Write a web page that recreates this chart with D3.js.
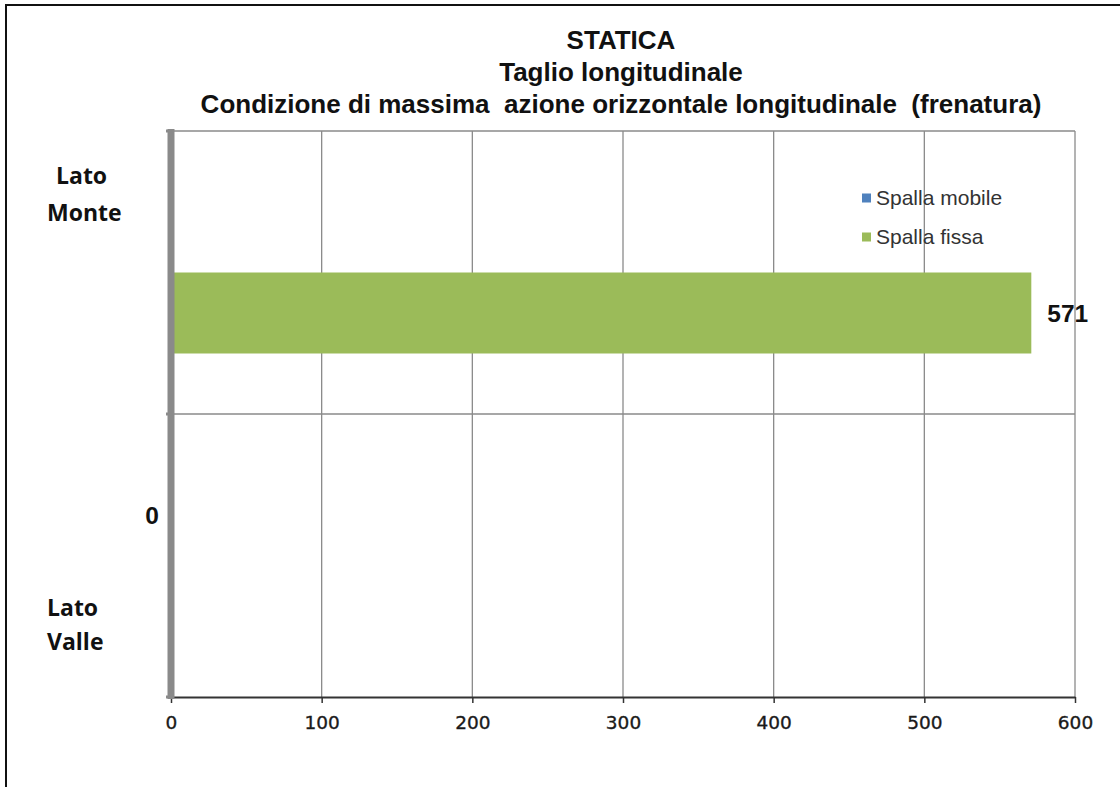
<!DOCTYPE html>
<html>
<head>
<meta charset="utf-8">
<script src="https://cdn.jsdelivr.net/npm/d3@7/dist/d3.min.js"></script>
<style>
  html, body { margin: 0; padding: 0; background: #fff; }
  svg { display: block; }
</style>
</head>
<body>
<svg id="chart" width="1120" height="787"></svg>
<script>
// Categories (top to bottom) and series
const categories = ["Lato Monte", "Lato Valle"];
const seriesNames = ["Spalla mobile", "Spalla fissa"];
const spallaMobile = [null, 0];
const spallaFissa = [571, null];
const xTicks = [0, 100, 200, 300, 400, 500, 600];
const titleLines = [
  "STATICA",
  "Taglio longitudinale",
  "Condizione di massima  azione orizzontale longitudinale  (frenatura)"
];
const categoryLabelLines = {
  "Lato Monte": ["Lato", "Monte"],
  "Lato Valle": ["Lato", "Valle"]
};

const seriesColors = { "Spalla mobile": "#4F81BD", "Spalla fissa": "#9BBB59" };
const seriesValues = { "Spalla mobile": spallaMobile, "Spalla fissa": spallaFissa };

const svg = d3.select("#chart");
const plot = { left: 171, right: 1075, top: 131, bottom: 697 };

// Outer chart frame
svg.append("rect")
  .attr("x", 6).attr("y", 5).attr("width", 1130).attr("height", 800)
  .attr("fill", "#fff").attr("stroke", "#111").attr("stroke-width", 2);

const x = d3.scaleLinear().domain([0, 600]).range([plot.left, plot.right]);
const y = d3.scaleBand().domain(categories).range([plot.top, plot.bottom]).padding(0);
const ySeries = d3.scaleBand().domain(seriesNames).range([0, y.bandwidth()])
  .paddingInner(0).paddingOuter(0.747);

// Vertical gridlines
svg.append("g").selectAll("line").data(xTicks.filter(d => d > 0)).join("line")
  .attr("x1", d => x(d)).attr("x2", d => x(d))
  .attr("y1", plot.top).attr("y2", plot.bottom)
  .attr("stroke", "#8a8a8a").attr("stroke-width", 1.3);

// Horizontal gridlines at category boundaries
svg.append("g").selectAll("line").data(categories).join("line")
  .attr("x1", plot.left).attr("x2", plot.right)
  .attr("y1", d => y(d)).attr("y2", d => y(d))
  .attr("stroke", "#8a8a8a").attr("stroke-width", 1.3);

// Bars
const barData = [];
seriesNames.forEach(s => {
  seriesValues[s].forEach((v, i) => {
    if (v !== null) barData.push({ series: s, cat: categories[i], value: v });
  });
});

svg.append("g").selectAll("rect").data(barData).join("rect")
  .attr("x", x(0))
  .attr("y", d => y(d.cat) + ySeries(d.series))
  .attr("width", d => x(d.value) - x(0))
  .attr("height", ySeries.bandwidth())
  .attr("fill", d => seriesColors[d.series]);

// Value labels
svg.append("g").selectAll("text").data(barData).join("text")
  .attr("x", d => d.value > 0 ? x(d.value) + 16 : x(0) - 19)
  .attr("y", d => y(d.cat) + ySeries(d.series) + ySeries.bandwidth() / 2)
  .attr("dy", "0.36em")
  .attr("text-anchor", d => d.value > 0 ? "start" : "middle")
  .attr("font-family", "'Liberation Sans', Arial, sans-serif")
  .attr("font-weight", "bold")
  .attr("font-size", 24.5)
  .attr("fill", "#111")
  .text(d => d.value);

// Bottom axis
const xAxis = d3.axisBottom(x).tickValues(xTicks).tickSize(6).tickSizeOuter(0).tickPadding(13);
const gx = svg.append("g").attr("transform", `translate(0,${plot.bottom})`).call(xAxis);
gx.select(".domain").attr("stroke", "#333").attr("stroke-width", 2);
gx.selectAll(".tick line").attr("stroke", "#333").attr("stroke-width", 1.5);
gx.selectAll(".tick text")
  .attr("font-family", "'DejaVu Sans', sans-serif")
  .attr("font-size", 18.5)
  .attr("fill", "#1a1a1a")
  .attr("stroke", "#1a1a1a")
  .attr("stroke-width", 0.35);

// Left category axis (thick grey line)
svg.append("line")
  .attr("x1", plot.left).attr("x2", plot.left)
  .attr("y1", plot.top - 2).attr("y2", plot.bottom + 2)
  .attr("stroke", "#8a8a8a").attr("stroke-width", 7);
const boundaries = categories.map(c => y(c)).concat([plot.bottom]);
svg.append("g").selectAll("line").data(boundaries).join("line")
  .attr("x1", plot.left - 5).attr("x2", plot.left)
  .attr("y1", d => d).attr("y2", d => d)
  .attr("stroke", "#8a8a8a").attr("stroke-width", 3);

// Category labels
const catLabelOffset = { "Lato Monte": [-97, -60], "Lato Valle": [52, 86] };
const catLabelDx = { "Lato Monte": [9, 0], "Lato Valle": [0, 0] };
categories.forEach(c => {
  const cy = y(c) + y.bandwidth() / 2;
  categoryLabelLines[c].forEach((line, i) => {
    svg.append("text")
      .attr("x", 47 + catLabelDx[c][i])
      .attr("y", cy + catLabelOffset[c][i])
      .attr("dy", "0.35em")
      .attr("font-family", "'Open Sans', sans-serif")
      .attr("font-weight", "bold")
      .attr("font-size", 23)
      .attr("fill", "#111")
      .text(line);
  });
});

// Title
const titleY = [40, 72, 104];
const titleCx = (202 + 1040) / 2;
titleLines.forEach((t, i) => {
  svg.append("text")
    .attr("x", titleCx).attr("y", titleY[i]).attr("dy", "0.35em")
    .attr("text-anchor", "middle")
    .attr("font-family", "'Liberation Sans', Arial, sans-serif")
    .attr("font-weight", "bold")
    .attr("font-size", 26)
    .attr("fill", "#111")
    .style("white-space", "pre")
    .text(t);
});

// Legend
const legend = svg.append("g");
seriesNames.forEach((s, i) => {
  const ly = 198 + i * 39;
  legend.append("rect")
    .attr("x", 862).attr("y", ly - 4.5).attr("width", 9).attr("height", 9)
    .attr("fill", seriesColors[s]);
  legend.append("text")
    .attr("x", 876).attr("y", ly).attr("dy", "0.35em")
    .attr("font-family", "'Liberation Sans', Arial, sans-serif")
    .attr("font-size", 21)
    .attr("fill", "#333")
    .text(s);
});
</script>
</body>
</html>
